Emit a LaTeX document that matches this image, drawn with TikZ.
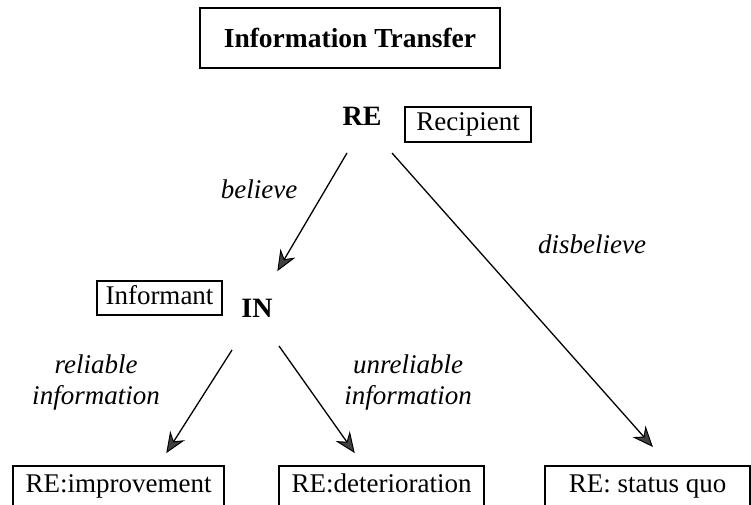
\documentclass[tikz,border=0pt]{standalone}
\usepackage{fontspec}
\setmainfont{Liberation Serif}
\usetikzlibrary{calc}
\definecolor{headgray}{gray}{0.25}
\newcommand{\mkarrow}[2]{%
  \coordinate (#2-b) at ($(#2)!18pt!(#1)$);
  \coordinate (#2-i) at ($(#2)!12pt!(#1)$);
  \coordinate (#2-l) at ($(#2-b)!7.5pt!90:(#2)$);
  \coordinate (#2-r) at ($(#2-b)!7.5pt!-90:(#2)$);
  \draw[line width=1.3pt] (#1) -- (#2-i);
  \filldraw[fill=headgray,draw=black,line width=1pt,line join=miter] (#2) -- (#2-l) -- (#2-i) -- (#2-r) -- cycle;
}
\begin{document}
\begin{tikzpicture}[x=1pt,y=-1pt,
  txt/.style={inner sep=0pt,font=\fontsize{27}{31}\selectfont},
  boxed/.style={draw,line width=1.3pt,inner sep=0pt,text height=18pt,text depth=6pt,font=\fontsize{27}{31}\selectfont},
  lbl/.style={inner sep=0pt,align=center,font=\fontsize{27}{31}\selectfont\itshape}]
\useasboundingbox (0,0) rectangle (751,504);
\clip (0,0) rectangle (751,504);
\node[draw,line width=1.3pt,inner sep=0pt,minimum width=300pt,minimum height=60pt,font=\fontsize{27.5}{31}\selectfont\bfseries] (title) at (350,38) {Information Transfer};
\node[txt,font=\fontsize{28}{31}\selectfont\bfseries] (RE) at (362,116) {RE};
\node[boxed,minimum width=126pt,minimum height=35pt] (rec) at (468,124.5) {Recipient};
\node[txt,font=\fontsize{28}{31}\selectfont\bfseries] (IN) at (257,308) {IN};
\node[boxed,minimum width=125pt,minimum height=34pt] (inf) at (159.5,298) {Informant};
\node[lbl] (bel) at (259,189) {believe};
\node[lbl] (dis) at (592,244) {disbelieve};
\node[lbl] (rel) at (96,382) {reliable\\information};
\node[lbl] (unrel) at (408,382) {unreliable\\information};
\node[boxed,minimum width=211pt,minimum height=40pt] (imp) at (118.5,486) {RE:improvement};
\node[boxed,minimum width=205pt,minimum height=40pt] (det) at (381.5,486) {RE:deterioration};
\node[boxed,minimum width=205pt,minimum height=40pt] (sq) at (647.5,486) {RE: status quo};
\coordinate (reL) at ([shift={(-15,37)}]RE.center);
\coordinate (reR) at ([shift={(30,37)}]RE.center);
\coordinate (inT) at ([shift={(21,-38)}]IN.center);
\coordinate (inL) at ([shift={(-25,42)}]IN.center);
\coordinate (inR) at ([shift={(22,38)}]IN.center);
\coordinate (impT) at ([shift={(48.5,-34)}]imp.center);
\coordinate (detT) at ([shift={(-27.5,-34)}]det.center);
\coordinate (sqT) at ([shift={(4.5,-40)}]sq.center);
\mkarrow{reL}{inT}
\mkarrow{reR}{sqT}
\mkarrow{inL}{impT}
\mkarrow{inR}{detT}
\end{tikzpicture}
\end{document}
